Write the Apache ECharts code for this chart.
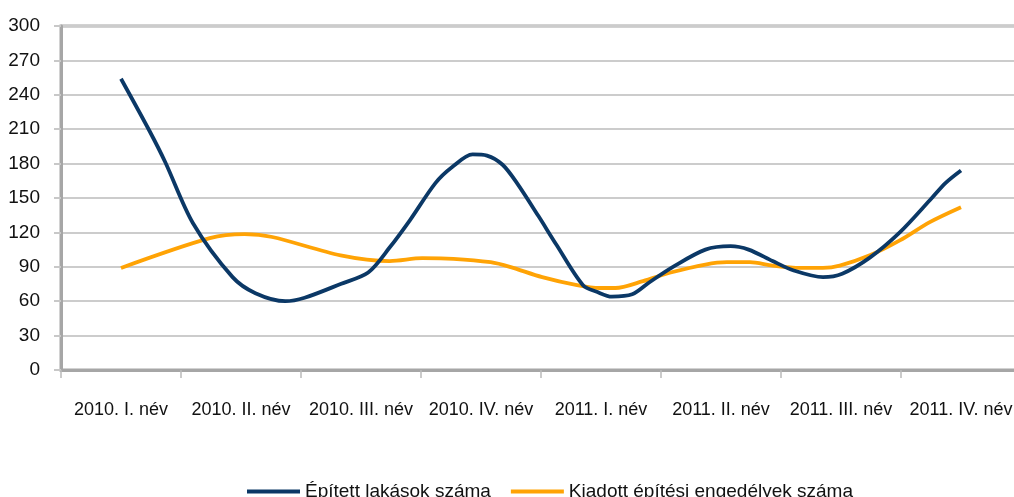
<!DOCTYPE html>
<html>
<head>
<meta charset="utf-8">
<script src="https://cdn.jsdelivr.net/npm/echarts@6/dist/echarts.min.js"></script>
<style>
html,body{margin:0;padding:0;background:#fff;overflow:hidden;}
#c{width:1014px;height:497px;}
</style>
</head>
<body>
<div id="c"></div>
<script>
const categories = ['2010. I. név','2010. II. név','2010. III. név','2010. IV. név','2011. I. név','2011. II. név','2011. III. név','2011. IV. név'];
const yTicks = [0, 300, 30];
const seriesNames = ['Épített lakások száma', 'Kiadott építési engedélyek száma'];
// [position in category units, value]
const built = [[0,254],[0.24,208],[0.37,181],[0.6,128],[0.93,81],[1.12,67],[1.37,60],[1.53,63],[1.83,75],[2.06,85],[2.24,107],[2.41,131],[2.62,163],[2.76,177],[2.93,188],[3.05,187],[3.18,179],[3.3,163],[3.48,134],[3.63,109],[3.85,74],[3.97,68],[4.09,64],[4.26,66],[4.41,77],[4.6,90],[4.87,105],[5.08,108],[5.23,105],[5.43,95],[5.6,87],[5.85,81],[6.01,84],[6.24,98],[6.49,120],[6.74,148],[6.87,163],[7,174]];
const permits = [[0,89],[0.74,115],[1.03,118.5],[1.26,116],[1.83,100],[2.24,95],[2.51,97.5],[2.77,97],[3.08,94],[3.24,90],[3.51,81],[3.8,74],[3.99,71.5],[4.12,71.5],[4.35,77.5],[4.58,85],[4.87,92],[5.05,94],[5.24,94],[5.43,91],[5.66,89],[5.85,89],[5.99,91],[6.24,100],[6.49,113],[6.74,129],[7,142]];

const font = '"Liberation Sans", Arial, sans-serif';
const chart = echarts.init(document.getElementById('c'));
chart.setOption({
  animation: false,
  grid: {left: 61, width: 960, top: 26, height: 344, show: true, borderColor: '#a6a6a6', borderWidth: 3, outerBoundsMode: 'none', containLabel: false},
  legend: {
    top: 477, left: 242, itemWidth: 53, itemHeight: 4, itemGap: 20, icon: 'rect',
    textStyle: {fontFamily: font, fontSize: 19, color: '#111'},
    data: seriesNames
  },
  xAxis: [{
    type: 'category', data: categories, boundaryGap: true,
    axisLine: {lineStyle: {color: '#a6a6a6', width: 3}},
    axisTick: {show: true, length: 8, lineStyle: {color: '#bbbbbb', width: 1.5}},
    axisLabel: {margin: 31, fontFamily: font, fontSize: 18, color: '#111', interval: 0},
    splitLine: {show: false}
  }, {
    type: 'value', min: -0.5, max: 7.5, show: false, position: 'bottom'
  }],
  yAxis: {
    type: 'value', min: yTicks[0], max: yTicks[1], interval: yTicks[2],
    axisLine: {show: true, onZero: false, lineStyle: {color: '#a6a6a6', width: 3}},
    axisTick: {show: true, length: 7, lineStyle: {color: '#c8c8c8', width: 2}},
    axisLabel: {margin: 21, fontFamily: font, fontSize: 19, color: '#111'},
    splitLine: {lineStyle: {color: '#cccccc', width: 2}}
  },
  series: [{
    name: seriesNames[0], type: 'line', xAxisIndex: 1, data: built, smooth: 0.3,
    showSymbol: false, symbol: 'none', color: '#0b3866',
    lineStyle: {width: 3.8, color: '#0b3866'}, z: 3
  }, {
    name: seriesNames[1], type: 'line', xAxisIndex: 1, data: permits, smooth: 0.3,
    showSymbol: false, symbol: 'none', color: '#ffa305',
    lineStyle: {width: 3.8, color: '#ffa305'}, z: 2
  }]
});
</script>
</body>
</html>
